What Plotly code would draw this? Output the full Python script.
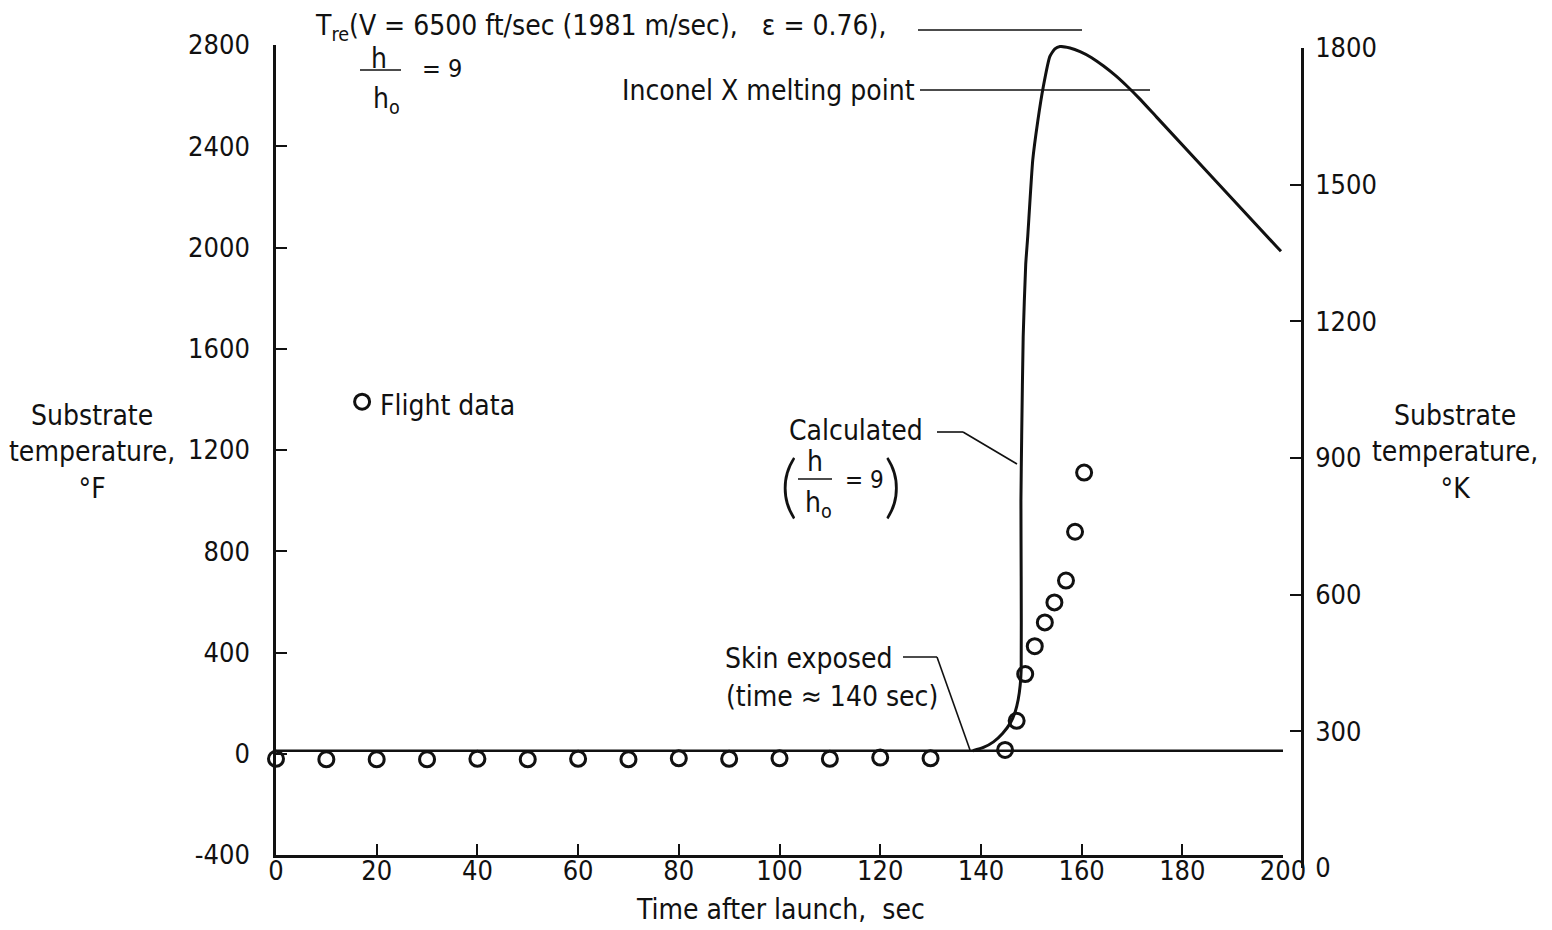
import plotly.graph_objects as go

# ---------------- data ----------------
flight_t = [0, 10, 20, 30, 40, 50, 60, 70, 80, 90, 100, 110, 120, 130,
            144.8, 147.1, 148.8, 150.7, 152.7, 154.6, 156.9, 158.7, 160.5]
flight_F = [-20, -22, -22, -22, -20, -22, -20, -22, -18, -20, -18, -20, -15, -18,
            15, 130, 315, 425, 519, 598, 684, 877, 1111]

calc_t = [138.4, 140.5, 142.5, 144.3, 145.8, 146.8, 147.4, 147.8, 148.0, 148.0,
          147.95, 148.1, 148.4, 148.9, 149.3, 150.3, 151.3, 152.4, 153.7, 154.7,
          155.7, 157.7, 159.7, 162.0, 164.3, 166.7, 169.0, 171.5, 174.9, 198.7, 199.6]
calc_F = [12, 25, 47, 80, 120, 165, 213, 270, 332, 700,
          1000, 1253, 1648, 1933, 2043, 2346, 2500, 2636, 2755, 2785,
          2794, 2788, 2774, 2750, 2718, 2680, 2638, 2588, 2515, 2004, 1985]

base_t = [0, 200]
base_F = [12, 12]

legend_t = [17.1]
legend_F = [1391]

x_ticks = list(range(0, 201, 20))
yF_ticks = list(range(-400, 2801, 400))
yF_text = [str(v) for v in yF_ticks]
yK_ticks = list(range(0, 1801, 300))

# ---------------- layout helpers ----------------
W, H = 1552, 930
def px(x):
    return x / W
def py(y):
    return 1 - y / H

FONT = "Liberation Sans Narrow, DejaVu Sans Condensed, Arial Narrow, sans-serif"
PAREN_FONT = "Lato, Inter, Noto Sans, sans-serif"
FS = 28
TFS = 27
BLACK = "#111111"

fig = go.Figure()

fig.add_trace(go.Scatter(x=base_t, y=base_F, mode="lines",
                         line=dict(color=BLACK, width=2.5), showlegend=False,
                         hoverinfo="skip"))
fig.add_trace(go.Scatter(x=calc_t, y=calc_F, mode="lines",
                         line=dict(color=BLACK, width=3, shape="spline", smoothing=0.5),
                         showlegend=False))
fig.add_trace(go.Scatter(x=flight_t, y=flight_F, mode="markers",
                         marker=dict(symbol="circle-open", size=15,
                                     color=BLACK, line=dict(width=3, color=BLACK)),
                         showlegend=False, cliponaxis=False))
fig.add_trace(go.Scatter(x=legend_t, y=legend_F, mode="markers",
                         marker=dict(symbol="circle-open", size=15,
                                     color=BLACK, line=dict(width=3, color=BLACK)),
                         showlegend=False))
# dummy trace to create the right (Kelvin) axis subplot
fig.add_trace(go.Scatter(x=[None], y=[None], xaxis="x", yaxis="y2",
                         mode="markers", showlegend=False, hoverinfo="skip"))

axis_common = dict(showgrid=False, zeroline=False, showline=True,
                   linecolor=BLACK, linewidth=2.5, ticks="inside",
                   ticklen=11, tickwidth=2, tickcolor=BLACK,
                   tickfont=dict(family=FONT, size=TFS, color=BLACK),
                   automargin=False)

fig.update_layout(
    width=W, height=H,
    margin=dict(l=0, r=0, t=0, b=0),
    paper_bgcolor="white", plot_bgcolor="rgba(0,0,0,0)",
    font=dict(family=FONT, size=FS, color=BLACK),
    showlegend=False,
    xaxis=dict(domain=[px(276), px(1283)], range=[0, 200], tickvals=x_ticks,
               anchor="y", ticklabelstandoff=-10, **axis_common),
    yaxis=dict(domain=[py(855), py(45)], range=[-400, 2800], tickvals=yF_ticks,
               ticktext=yF_text,
               anchor="x", ticklabelstandoff=18, **axis_common),
    yaxis2=dict(domain=[py(868), py(48)], range=[0, 1800], tickvals=yK_ticks,
                side="right", anchor="free", position=px(1302),
                ticklabelstandoff=6, **axis_common),
)

ann = []
def text(x, y, s, xanchor="center", size=FS, yanchor="middle", family=FONT, weight=None):
    f = dict(family=family, size=size, color=BLACK)
    if weight is not None:
        f["weight"] = weight
    ann.append(dict(x=px(x), y=py(y), xref="paper", yref="paper", text=s,
                    showarrow=False, xanchor=xanchor, yanchor=yanchor, font=f))

# axis titles
text(92, 452, "Substrate<br>temperature,<br>°F")
text(1455, 452, "Substrate<br>temperature,<br>°K")
text(780, 909, "Time after launch,  sec")

# top label
text(313, 27, "T<sub>re</sub>(V = 6500 ft/sec (1981 m/sec),   ε = 0.76),", xanchor="left")
text(379, 58, "h")
text(386, 100, "h<sub>o</sub>")
text(420, 68, "= 9", xanchor="left", size=25)

# melting point
text(917, 90, "Inconel X melting point", xanchor="right")

# legend
text(378, 405, "Flight data", xanchor="left")

# calculated label
text(856, 430, "Calculated")
text(789, 484, "(", size=68, family=PAREN_FONT, weight=300)
text(893, 484, ")", size=68, family=PAREN_FONT, weight=300)
text(815, 461, "h")
text(818, 504, "h<sub>o</sub>")
text(843, 480, "= 9", xanchor="left", size=24)

# skin exposed
text(809, 658, "Skin exposed")
text(832, 696, "(time ≈ 140 sec)")

fig.update_layout(annotations=ann)

shapes = []
def seg(x0, y0, x1, y1, w=1.6):
    shapes.append(dict(type="line", xref="paper", yref="paper",
                       x0=px(x0), y0=py(y0), x1=px(x1), y1=py(y1),
                       line=dict(color=BLACK, width=w)))

seg(918, 30, 1082, 30)           # T_re level
seg(360, 70, 401, 70)            # h/h0 bar (top)
seg(920, 90, 1150, 90)           # melting point
seg(798, 479, 832, 479)          # h/h0 bar (calculated)
seg(937, 432, 963, 432)
seg(963, 432, 1017, 464)
seg(903, 657, 937, 657)
seg(937, 657, 970, 750)

fig.update_layout(shapes=shapes)

fig.write_html("out.html")
